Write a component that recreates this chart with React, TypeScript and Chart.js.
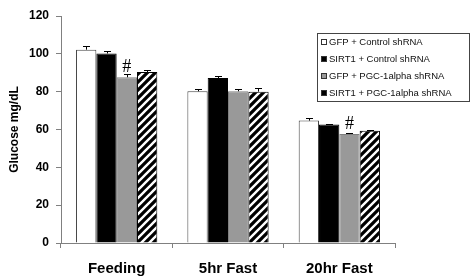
import React, { useEffect, useRef } from "react";
import { Chart, registerables } from "chart.js";

Chart.register(...registerables);

const categories = ["Feeding", "5hr Fast", "20hr Fast"];
const seriesNames = [
  "GFP + Control shRNA",
  "SIRT1 + Control shRNA",
  "GFP + PGC-1alpha shRNA",
  "SIRT1 + PGC-1alpha shRNA",
];
const gfpControl = [102.2, 80.2, 64.7];
const sirt1Control = [100.2, 87.2, 62.6];
const gfpPgc = [87.6, 80.2, 57.6];
const sirt1Pgc = [90.4, 80.0, 59.4];
const gfpControlErr = [2.1, 1.2, 1.6];
const sirt1ControlErr = [1.4, 1.2, 0.3];
const gfpPgcErr = [1.6, 1.2, 0.5];
const sirt1PgcErr = [1.1, 1.9, 0.4];
const gfpPgcSig = ["#", "", "#"];
const yTicks = [0, 20, 40, 60, 80, 100, 120];

const FONT = "'Liberation Sans', Arial, sans-serif";

function makeHatch(): CanvasPattern | string {
  const c = document.createElement("canvas");
  c.width = 8;
  c.height = 8;
  const g = c.getContext("2d");
  if (!g) return "#000";
  g.fillStyle = "#000";
  g.fillRect(0, 0, 8, 8);
  g.strokeStyle = "#fff";
  g.lineWidth = 2.4;
  g.beginPath();
  g.moveTo(-2, 10);
  g.lineTo(10, -2);
  g.moveTo(-2, 2);
  g.lineTo(2, -2);
  g.moveTo(6, 10);
  g.lineTo(10, 6);
  g.stroke();
  const p = g.createPattern(c, "repeat");
  return p || "#000";
}

export default function App() {
  const ref = useRef<HTMLCanvasElement | null>(null);

  useEffect(() => {
    if (!ref.current) return;
    const hatch = makeHatch();
    const errs = [gfpControlErr, sirt1ControlErr, gfpPgcErr, sirt1PgcErr];
    const legendFills: string[] = ["#ffffff", "#000000", "#999999", "#000000"];

    const extras = {
      id: "extras",
      afterDatasetsDraw(chart: any) {
        const ctx = chart.ctx;
        const ys = chart.scales.y;
        ctx.save();
        // error bars
        ctx.strokeStyle = "#000";
        ctx.lineWidth = 1;
        errs.forEach((arr, di) => {
          const meta = chart.getDatasetMeta(di);
          meta.data.forEach((bar: any, i: number) => {
            const v = chart.data.datasets[di].data[i] as number;
            const top = ys.getPixelForValue(v);
            const e = ys.getPixelForValue(v + arr[i]);
            const x = Math.round(bar.x) + 0.5;
            ctx.beginPath();
            ctx.moveTo(x, top);
            ctx.lineTo(x, Math.round(e) + 0.5);
            ctx.moveTo(x - 3.5, Math.round(e) + 0.5);
            ctx.lineTo(x + 3.5, Math.round(e) + 0.5);
            ctx.stroke();
          });
        });
        // significance marks
        const gm = chart.getDatasetMeta(2);
        ctx.fillStyle = "#000";
        ctx.font = "18px 'Liberation Serif', 'Times New Roman', serif";
        ctx.textAlign = "center";
        ctx.textBaseline = "alphabetic";
        gfpPgcSig.forEach((s, i) => {
          if (!s) return;
          const bar: any = gm.data[i];
          const top = ys.getPixelForValue(gfpPgc[i]);
          ctx.fillText(s, bar.x, top - 5);
        });
        // legend
        const lx = 317.5,
          ly = 33.5,
          lw = 152,
          lh = 68;
        ctx.fillStyle = "#fff";
        ctx.fillRect(lx, ly, lw, lh);
        ctx.strokeStyle = "#444";
        ctx.strokeRect(lx, ly, lw, lh);
        ctx.font = "9.5px " + FONT;
        ctx.textAlign = "left";
        ctx.textBaseline = "middle";
        seriesNames.forEach((name, i) => {
          const cy = 42 + i * 17;
          ctx.fillStyle = legendFills[i];
          ctx.fillRect(321, cy - 3, 6, 6);
          ctx.strokeStyle = "#333";
          ctx.strokeRect(321.5, cy - 2.5, 5, 5);
          ctx.fillStyle = "#111";
          ctx.fillText(name, 329, cy + 0.5);
        });
        ctx.restore();
      },
    };

    const chart = new Chart(ref.current, {
      type: "bar",
      data: {
        labels: categories,
        datasets: [
          {
            label: seriesNames[0],
            data: gfpControl,
            backgroundColor: "#ffffff",
            borderColor: "#444",
            borderWidth: 1,
          },
          {
            label: seriesNames[1],
            data: sirt1Control,
            backgroundColor: "#000000",
            borderColor: "#000",
            borderWidth: 1,
          },
          {
            label: seriesNames[2],
            data: gfpPgc,
            backgroundColor: "#999999",
            borderColor: "#808080",
            borderWidth: 1,
          },
          {
            label: seriesNames[3],
            data: sirt1Pgc,
            backgroundColor: hatch as any,
            borderColor: "#000",
            borderWidth: 1,
          },
        ],
      },
      options: {
        responsive: false,
        animation: false,
        events: [],
        layout: { padding: { top: 16, right: 78, left: 0, bottom: 0 } },
        datasets: {
          bar: { categoryPercentage: 0.73, barPercentage: 1.0 },
        },
        plugins: {
          legend: { display: false },
          tooltip: { enabled: false },
          title: { display: false },
        },
        scales: {
          x: {
            grid: {
              offset: true,
              drawOnChartArea: false,
              drawTicks: true,
              tickLength: 5,
              color: "#808080",
            },
            border: { color: "#808080", width: 1 },
            ticks: {
              color: "#000",
              padding: 12,
              font: { family: FONT, size: 15, weight: "bold" },
            },
            afterFit(scale: any) {
              scale.height = 33;
            },
          },
          y: {
            min: 0,
            max: 120,
            afterBuildTicks(scale: any) {
              scale.ticks = yTicks.map((v) => ({ value: v }));
            },
            grid: {
              drawOnChartArea: false,
              drawTicks: true,
              tickLength: 5,
              color: "#808080",
            },
            border: { color: "#808080", width: 1 },
            ticks: {
              color: "#000",
              padding: 7,
              font: { family: FONT, size: 12, weight: "bold" },
            },
            title: {
              display: true,
              text: "Glucose mg/dL",
              color: "#000",
              padding: { top: 7, bottom: 0 },
              font: { family: FONT, size: 12, weight: "bold" },
            },
            afterFit(scale: any) {
              scale.width = 61;
            },
          },
        },
      },
      plugins: [extras],
    });
    return () => chart.destroy();
  }, []);

  return (
    <div style={{ position: "fixed", left: 0, top: 0, width: 473, height: 276, background: "#fff" }}>
      <canvas ref={ref} width={473} height={276} />
    </div>
  );
}
